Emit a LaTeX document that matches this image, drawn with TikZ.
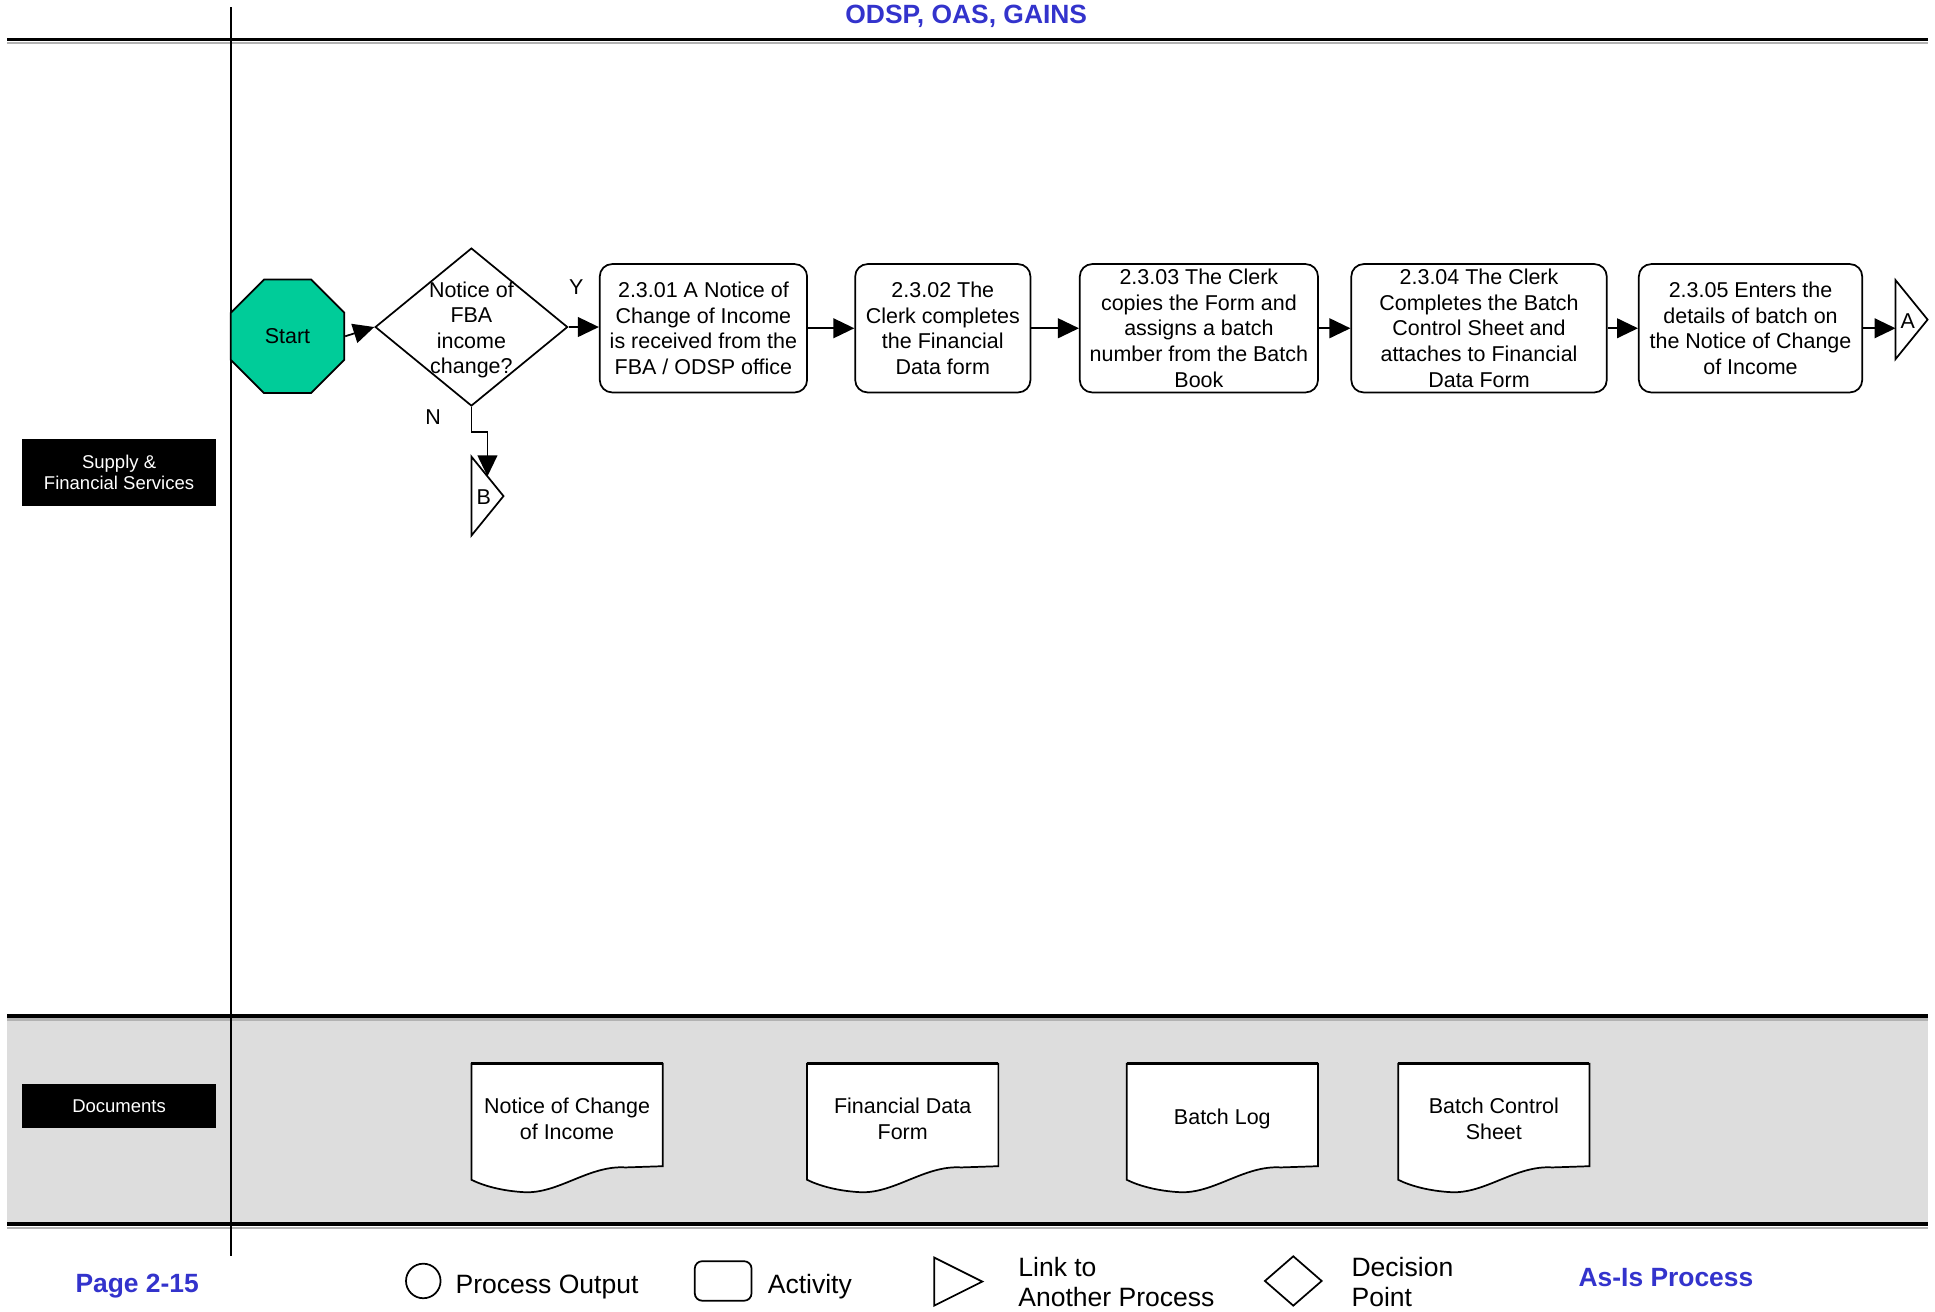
\documentclass[tikz,border=0pt]{standalone}
\usepackage{fontspec}
\setmainfont{Liberation Sans}
\usetikzlibrary{shapes.geometric,arrows.meta}
\definecolor{ttlblue}{RGB}{51,51,204}
\definecolor{startgreen}{RGB}{0,204,153}
\definecolor{bandgray}{RGB}{221,221,221}
\tikzset{
  base/.style={font=\fontsize{17.4pt}{20.7pt}\selectfont, align=center, inner sep=0pt},
  act/.style={base, draw, line width=1.4pt, rounded corners=10pt, minimum height=104pt},
  arr/.style={line width=1.4pt, -{Triangle[length=17pt,width=16pt]}},
  lanelbl/.style={fill=black, text=white, font=\fontsize{15pt}{17pt}\selectfont, align=center, minimum width=157pt, inner sep=0pt},
  thickrule/.style={line width=3.2pt},
  legtxt/.style={font=\fontsize{21.5pt}{26pt}\selectfont, anchor=west, inner sep=0pt},
  bluetxt/.style={font=\fontsize{21.4pt}{26pt}\selectfont\bfseries, text=ttlblue, inner sep=0pt},
  docline/.style={draw, fill=white, line width=1.4pt},
  thin/.style={line width=1.4pt}
}
\newcommand\mydoc[3]{%
  \begin{scope}[shift={(#2,0)}]
    \path[docline] (0,862) -- (155,862) -- (155,945) -- (125,946)
      .. controls (95,944) and (70,968) .. (42,966)
      .. controls (25,965) and (10,961) .. (0,956) -- cycle;
    \draw[line width=2.2pt] (0,862) -- (155,862);
    \node[base] (#1) at (77.5,906.5) {#3};
  \end{scope}}
\begin{document}
\begin{tikzpicture}[x=1pt,y=-1pt]
\useasboundingbox (0,0) rectangle (1568,1063);
% documents band
\fill[bandgray] (6,823) rectangle (1562,992);
\draw[gray!60, line width=2pt] (6,35) -- (1562,35);
\draw[gray!60, line width=2pt] (6,826) -- (1562,826);
\draw[gray!60, line width=2pt] (6,995) -- (1562,995);
\draw[thickrule] (6,32) -- (1562,32);
\draw[thickrule] (6,823) -- (1562,823);
\draw[thickrule] (6,992) -- (1562,992);
\draw[line width=1.5pt] (187,6) -- (187,1018);
% title
\node[bluetxt] (title) at (783,13) {ODSP, OAS, GAINS};
% lane labels
\node[lanelbl, minimum height=54pt] (lane1) at (96.5,383) {Supply \&\\Financial Services};
\node[lanelbl, minimum height=36pt] (lane2) at (96.5,896) {Documents};
% start
\node[regular polygon, regular polygon sides=8, draw, line width=1.4pt, fill=startgreen,
      minimum size=99.6pt, inner sep=0pt, base] (start) at (233,272.5) {Start};
% decision
\node[diamond, draw, line width=1.4pt, minimum width=156pt, minimum height=128pt, inner sep=0pt] (dia) at (382,265) {};
\node[base] (diatxt) at (382,267.5) {Notice of\\FBA\\income\\change?};
\node[base] (ylbl) at (467,233) {Y};
\node[base] (nlbl) at (351,338) {N};
% activities
\node[act, minimum width=168pt] (b1) at (570,266) {2.3.01 A Notice of\\Change of Income\\is received from the\\FBA / ODSP office};
\node[act, minimum width=142pt] (b2) at (764,266) {2.3.02 The\\Clerk completes\\the Financial\\Data form};
\node[act, minimum width=193pt] (b3) at (971.5,266) {2.3.03 The Clerk\\copies the Form and\\assigns a batch\\number from the Batch\\Book};
\node[act, minimum width=207pt] (b4) at (1198.5,266) {2.3.04 The Clerk\\Completes the Batch\\Control Sheet and\\attaches to Financial\\Data Form};
\node[act, minimum width=181pt] (b5) at (1418.5,266) {2.3.05 Enters the\\details of batch on\\the Notice of Change\\of Income};
% link A
\draw[thin, fill=white] (1536,227) -- (1562,259) -- (1536,291) -- cycle;
\coordinate (linkA) at (1536,266);
\node[base] (alab) at (1546,260) {A};
% link B
\draw[thin, fill=white] (382,370) -- (408,402) -- (382,434) -- cycle;
\coordinate (linkB) at (395,386);
\node[base] (blab) at (392,403) {B};
% connectors
\draw[arr] (start.east) -- (dia.west);
\draw[arr] (dia.east) -- (dia.east -| b1.west);
\draw[arr] (b1.east) -- (b2.west);
\draw[arr] (b2.east) -- (b3.west);
\draw[arr] (b3.east) -- (b4.west);
\draw[arr] (b4.east) -- (b5.west);
\draw[arr] (b5.east) -- (linkA);
\draw[arr] (dia.south) -- (382,350) -- (395,350) -- (linkB);
% documents
\mydoc{d1}{382}{Notice of Change\\of Income}
\mydoc{d2}{654}{Financial Data\\Form}
\mydoc{d3}{913}{Batch Log}
\mydoc{d4}{1133}{Batch Control\\Sheet}
% footer / legend
\node[bluetxt, anchor=west] (page) at (61,1042.5) {Page 2-15};
\node[draw, circle, line width=1.4pt, minimum size=28pt, inner sep=0pt] (legc) at (343,1038) {};
\node[legtxt] (legct) at (369,1042.5) {Process Output};
\node[draw, line width=1.4pt, rounded corners=6pt, minimum width=46pt, minimum height=32pt, inner sep=0pt] (legr) at (586,1038) {};
\node[legtxt] (legrt) at (622,1042.5) {Activity};
\draw[thin] (757,1019) -- (796,1038.5) -- (757,1058) -- cycle;
\node[legtxt] (legtt1) at (825,1027) {Link to};
\node[legtxt] (legtt2) at (825,1051) {Another Process};
\draw[thin] (1025,1038) -- (1048,1018) -- (1071,1038) -- (1048,1058) -- cycle;
\node[legtxt] (legdt1) at (1095,1027) {Decision};
\node[legtxt] (legdt2) at (1095,1051) {Point};
\node[bluetxt, anchor=west] (asis) at (1279,1035.5) {As-Is Process};
\end{tikzpicture}
\end{document}
